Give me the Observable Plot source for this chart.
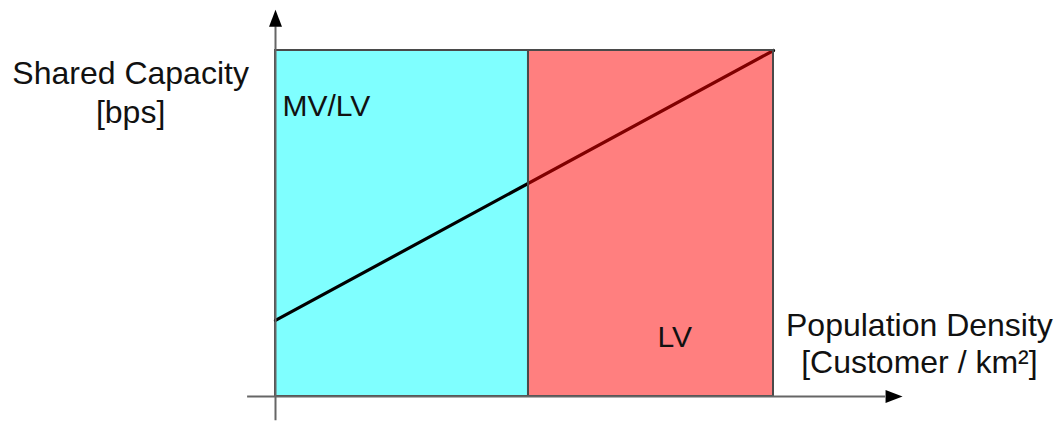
<!DOCTYPE html>
<html>
<head>
<meta charset="utf-8">
<script src="https://cdn.jsdelivr.net/npm/d3@7"></script>
<script src="https://cdn.jsdelivr.net/npm/@observablehq/plot@0.6"></script>
<style>
  html, body { margin: 0; padding: 0; background: #fff; }
  #chart { width: 1059px; height: 421px; }
</style>
</head>
<body>
<div id="chart"></div>
<script>
// Regions (population density bands, arbitrary units 0–100)
const regionNames = ["MV/LV", "LV"];
const regionStart = [0, 50.8];
const regionEnd = [50.8, 100];
const regionFills = ["#00ffff", "#ff0000"];

// Shared capacity line (arbitrary units)
const densityValues = [0, 100];
const capacityValues = [22, 100];

// Axis extents (arbitrary units)
const xAxisExtent = [-5.6, 122.5];
const yAxisExtent = [-7, 106.9];

const regions = regionNames.map((name, i) => ({name, x1: regionStart[i], x2: regionEnd[i], fill: regionFills[i]}));
const capacity = densityValues.map((d, i) => ({x: d, y: capacityValues[i]}));

const arrowHead = {
  draw(context) {
    context.moveTo(0, -17);
    context.lineTo(6.5, 0);
    context.lineTo(-6.5, 0);
    context.closePath();
  }
};

const font = "'Liberation Sans', Arial, sans-serif";
const axisColor = "#666";
const borderColor = "#4a4a4a";

const chart = Plot.plot({
  width: 1059,
  height: 421,
  marginTop: 0, marginRight: 0, marginBottom: 0, marginLeft: 0,
  x: {domain: [0, 100], range: [275, 773], axis: null},
  y: {domain: [0, 100], range: [396, 50], axis: null},
  style: {fontFamily: font, background: "#fff"},
  marks: [
    // cyan region below the line
    Plot.rectY([regions[0]], {x1: "x1", x2: "x2", y1: 0, y2: 100, fill: "fill", fillOpacity: 0.5, stroke: borderColor, strokeWidth: 2}),
    // capacity line
    Plot.line(capacity, {x: "x", y: "y", stroke: "#000", strokeWidth: 3.2}),
    // red region drawn over the line (translucent)
    Plot.rectY([regions[1]], {x1: "x1", x2: "x2", y1: 0, y2: 100, fill: "fill", fillOpacity: 0.5, stroke: borderColor, strokeWidth: 2}),
    // axes
    Plot.ruleY([0], {x1: xAxisExtent[0], x2: xAxisExtent[1], stroke: axisColor, strokeWidth: 2}),
    Plot.ruleX([0], {y1: yAxisExtent[0], y2: yAxisExtent[1], stroke: axisColor, strokeWidth: 2}),
    Plot.dot([{x: 0, y: yAxisExtent[1]}], {x: "x", y: "y", symbol: arrowHead, fill: "#000", stroke: "none"}),
    Plot.dot([{x: xAxisExtent[1], y: 0}], {x: "x", y: "y", symbol: arrowHead, rotate: 90, fill: "#000", stroke: "none"}),
    // labels
    Plot.text(["Shared Capacity\n[bps]"], {x: -29.1, y: 88.2, text: d => d, fontSize: 32, lineHeight: 1.19, textAnchor: "middle", lineAnchor: "middle", fill: "#111", fontFamily: font}),
    Plot.text([regions[0].name], {x: 1.4, y: 81.2, text: d => d, fontSize: 30, textAnchor: "start", lineAnchor: "bottom", fill: "#111", fontFamily: font}),
    Plot.text([regions[1].name], {x: 76.7, y: 14.2, text: d => d, fontSize: 30, textAnchor: "start", lineAnchor: "bottom", fill: "#111", fontFamily: font}),
    Plot.text(["Population Density\n[Customer / km²]"], {x: 129.3, y: 6.9, text: d => d, fontSize: 32, lineHeight: 1.16, textAnchor: "middle", lineAnchor: "bottom", fill: "#111", fontFamily: font})
  ]
});

document.getElementById("chart").appendChild(chart);
</script>
</body>
</html>
